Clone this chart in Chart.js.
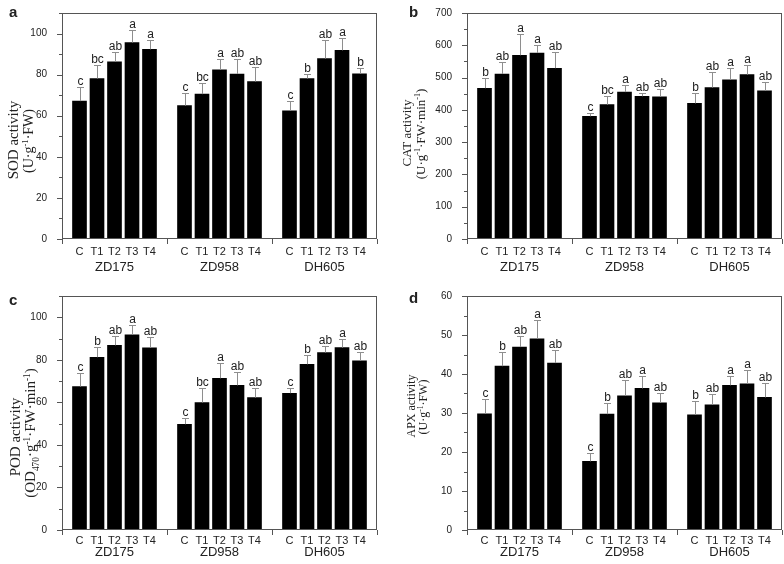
<!DOCTYPE html>
<html>
<head>
<meta charset="utf-8">
<script src="https://cdn.jsdelivr.net/npm/chart.js@4.4.1/dist/chart.umd.min.js"></script>
<style>
  body { margin: 0; background: #fff; }
  #wrap { position: relative; width: 784px; height: 564px; }
  canvas { position: absolute; }
</style>
</head>
<body>
<div id="wrap">
  <canvas id="pa" width="392" height="282" style="left:0;top:0"></canvas>
  <canvas id="pb" width="392" height="282" style="left:392px;top:0"></canvas>
  <canvas id="pc" width="392" height="282" style="left:0;top:282px"></canvas>
  <canvas id="pd" width="392" height="282" style="left:392px;top:282px"></canvas>
</div>
<script>
const groups = ['ZD175', 'ZD958', 'DH605'];
const treatments = ['C', 'T1', 'T2', 'T3', 'T4'];

// means / SD, order: ZD175 C..T4, ZD958 C..T4, DH605 C..T4
const sodMean = [67.1, 78.1, 86.2, 95.6, 92.3, 64.9, 70.5, 82.3, 80.3, 76.6, 62.4, 78.1, 87.8, 91.8, 80.4];
const sodSd = [6.7, 6.5, 5.0, 6.3, 4.6, 6.1, 5.2, 5.2, 7.2, 6.9, 4.7, 2.3, 9.1, 6.2, 2.8];
const sodLetters = ['c', 'bc', 'ab', 'a', 'a', 'c', 'bc', 'a', 'ab', 'ab', 'c', 'b', 'ab', 'a', 'b'];

const catMean = [467, 511, 569, 576, 529, 380, 416, 455, 442, 440, 420, 469, 493, 509, 459];
const catSd = [31, 38, 65, 24, 50, 9, 27, 23, 11, 25, 33, 48, 36, 31, 27];
const catLetters = ['b', 'ab', 'a', 'a', 'ab', 'c', 'bc', 'a', 'ab', 'ab', 'b', 'ab', 'a', 'a', 'ab'];

const podMean = [67.4, 81.2, 86.8, 91.8, 85.6, 49.7, 59.9, 71.3, 68.0, 62.2, 64.3, 77.9, 83.4, 85.7, 79.5];
const podSd = [6.3, 5.0, 4.6, 4.6, 5.0, 3.0, 7.0, 7.4, 6.5, 4.7, 2.6, 4.4, 3.1, 4.1, 4.2];
const podLetters = ['c', 'b', 'ab', 'a', 'ab', 'c', 'bc', 'a', 'ab', 'ab', 'c', 'b', 'ab', 'a', 'ab'];

const apxMean = [29.8, 42.0, 46.9, 49.0, 42.8, 17.6, 29.7, 34.4, 36.3, 32.6, 29.5, 32.1, 37.1, 37.5, 34.0];
const apxSd = [3.8, 3.6, 2.9, 4.8, 3.4, 2.1, 2.9, 4.1, 3.2, 2.5, 3.5, 2.8, 2.4, 3.6, 3.8];
const apxLetters = ['c', 'b', 'ab', 'a', 'ab', 'c', 'b', 'ab', 'a', 'ab', 'b', 'ab', 'a', 'a', 'ab'];

Chart.defaults.font.family = "'Liberation Sans', Arial, sans-serif";
Chart.defaults.color = '#222';
Chart.defaults.animation = false;

// 19 slots: an empty slot at each group edge, so the group ticks sit on real categories
function slots(values, blank) {
  const out = [blank];
  for (let g = 0; g < groups.length; g++) {
    for (let t = 0; t < treatments.length; t++) out.push(values[g * treatments.length + t]);
    out.push(blank);
  }
  return out;
}

// text with ^{sup} and _{sub} pieces, rotated for the y title
function richText(ctx, str, cx, cy, size) {
  const parts = [];
  str.replace(/\^\{([^}]*)\}|_\{([^}]*)\}|([^\^_]+)/g, (m, sup, sub, txt) => {
    if (sup !== undefined) parts.push({ t: sup, k: 'sup' });
    else if (sub !== undefined) parts.push({ t: sub, k: 'sub' });
    else parts.push({ t: txt, k: '' });
  });
  const font = k => (k ? size * 0.62 : size) + "px 'Liberation Serif', 'Times New Roman', serif";
  let w = 0;
  parts.forEach(p => { ctx.font = font(p.k); p.w = ctx.measureText(p.t).width; w += p.w; });
  ctx.save();
  ctx.translate(cx, cy);
  ctx.rotate(-Math.PI / 2);
  ctx.textAlign = 'left';
  ctx.textBaseline = 'alphabetic';
  ctx.fillStyle = '#222';
  let px = -w / 2;
  parts.forEach(p => {
    ctx.font = font(p.k);
    const dy = p.k === 'sup' ? -size * 0.38 : p.k === 'sub' ? size * 0.22 : 0;
    ctx.fillText(p.t, px, size * 0.35 + dy);
    px += p.w;
  });
  ctx.restore();
}

const panelDecor = {
  id: 'panelDecor',
  afterDraw(chart, args, o) {
    const ctx = chart.ctx;
    const xs = chart.scales.x, ys = chart.scales.y, area = chart.chartArea;
    const bars = chart.getDatasetMeta(0).data;
    const means = chart.data.datasets[0].data;
    ctx.save();

    // error bars (upper half) + significance letters
    ctx.strokeStyle = '#8e8e8e';
    ctx.lineWidth = 1;
    ctx.fillStyle = '#222';
    ctx.font = "12px 'Liberation Sans', Arial, sans-serif";
    ctx.textAlign = 'center';
    ctx.textBaseline = 'alphabetic';
    means.forEach((m, i) => {
      if (m === null || m === undefined) return;
      const bx = Math.round(bars[i].x) + 0.5;
      const yb = ys.getPixelForValue(m);
      const yt = Math.round(ys.getPixelForValue(m + o.sd[i])) + 0.5;
      ctx.beginPath();
      ctx.moveTo(bx, yb);
      ctx.lineTo(bx, yt);
      ctx.moveTo(bx - 3.5, yt);
      ctx.lineTo(bx + 3.5, yt);
      ctx.stroke();
      ctx.fillText(o.letters[i], bx, yt - 2.5);
    });

    // frame
    ctx.strokeStyle = '#555';
    ctx.strokeRect(area.left + 0.5, area.top + 0.5, area.right - area.left - 1, area.bottom - area.top - 1);

    // y ticks, outward; long at labelled values
    ctx.beginPath();
    ys.ticks.forEach(t => {
      const py = Math.round(ys.getPixelForValue(t.value)) + 0.5;
      const len = t.value % o.major === 0 ? 5 : 3;
      ctx.moveTo(area.left, py);
      ctx.lineTo(area.left - len, py);
    });
    // x ticks only between the groups
    const step = treatments.length + 1;
    for (let i = 0; i < chart.data.labels.length; i += step) {
      const px = Math.round(xs.getPixelForValue(i)) + 0.5;
      ctx.moveTo(px, area.bottom);
      ctx.lineTo(px, area.bottom + 5);
    }
    ctx.stroke();

    // treatment names, then group names under the middle treatment
    ctx.textBaseline = 'middle';
    ctx.font = "11px 'Liberation Sans', Arial, sans-serif";
    chart.data.labels.forEach((lab, i) => {
      if (lab) ctx.fillText(lab, xs.getPixelForValue(i), o.catY);
    });
    ctx.font = "13px 'Liberation Sans', Arial, sans-serif";
    groups.forEach((g, k) => {
      ctx.fillText(g, xs.getPixelForValue(k * step + 3), o.groupY);
    });

    // panel letter
    ctx.font = "bold 15px 'Liberation Sans', Arial, sans-serif";
    ctx.textAlign = 'left';
    ctx.textBaseline = 'alphabetic';
    ctx.fillText(o.panel, o.panelPos[0], o.panelPos[1]);

    // y title, two lines
    o.title.forEach((line, k) => richText(ctx, line, o.titleX[k], o.titleY[k], o.titleSize[k]));
    ctx.restore();
  }
};

function makePanel(id, p) {
  const labels = slots(groups.flatMap(() => treatments), '');
  new Chart(document.getElementById(id), {
    type: 'bar',
    data: {
      labels: labels,
      datasets: [{
        data: slots(p.mean, null),
        backgroundColor: '#000',
        barThickness: 14
      }]
    },
    options: {
      responsive: false,
      devicePixelRatio: 1,
      layout: { padding: { top: p.top, right: p.right, left: 0, bottom: 0 } },
      plugins: {
        legend: { display: false },
        tooltip: { enabled: false },
        panelDecor: {
          sd: slots(p.sd, 0),
          letters: slots(p.letters, ''),
          major: p.major,
          catY: p.catY,
          groupY: p.groupY,
          panel: p.panel,
          panelPos: p.panelPos,
          title: p.title,
          titleX: p.titleX,
          titleY: p.titleY,
          titleSize: p.titleSize
        }
      },
      scales: {
        x: {
          offset: false,
          grid: { display: false },
          border: { display: false },
          ticks: { display: false, autoSkip: false },
          afterFit: s => { s.height = p.xHeight; }
        },
        y: {
          min: 0,
          max: p.max,
          grid: { display: false },
          border: { display: false },
          ticks: {
            stepSize: p.major / 2,
            autoSkip: false,
            padding: 7,
            font: { size: 10 },
            color: '#222',
            callback: v => (v % p.major === 0 ? v : '')
          },
          afterFit: s => { s.width = p.yWidth; }
        }
      }
    },
    plugins: [panelDecor]
  });
}

makePanel('pa', {
  mean: sodMean, sd: sodSd, letters: sodLetters,
  max: 110, major: 20,
  top: 5, right: 15, yWidth: 62, xHeight: 43, catY: 252, groupY: 267,
  panel: 'a', panelPos: [9, 17],
  title: ['SOD activity', '(U·g^{-1}·FW)'], titleX: [13, 28], titleY: [140, 141], titleSize: [15, 14]
});

makePanel('pb', {
  mean: catMean, sd: catSd, letters: catLetters,
  max: 700, major: 100,
  top: 5, right: 2, yWidth: 75, xHeight: 43, catY: 252, groupY: 267,
  panel: 'b', panelPos: [17, 17],
  title: ['CAT activity', '(U·g^{-1}·FW·min^{-1})'], titleX: [14, 28], titleY: [133, 134], titleSize: [13, 13]
});

makePanel('pc', {
  mean: podMean, sd: podSd, letters: podLetters,
  max: 110, major: 20,
  top: 14, right: 15, yWidth: 62, xHeight: 34, catY: 259, groupY: 270,
  panel: 'c', panelPos: [9, 23],
  title: ['POD activity', '(OD_{470}·g^{-1}·FW·min^{-1})'], titleX: [15, 30], titleY: [155, 151], titleSize: [15, 15]
});

makePanel('pd', {
  mean: apxMean, sd: apxSd, letters: apxLetters,
  max: 60, major: 10,
  top: 14, right: 2, yWidth: 75, xHeight: 34, catY: 259, groupY: 270,
  panel: 'd', panelPos: [17, 21],
  title: ['APX activity', '(U·g^{-1}·FW)'], titleX: [19, 31], titleY: [124, 125], titleSize: [12, 12]
});
</script>
</body>
</html>
